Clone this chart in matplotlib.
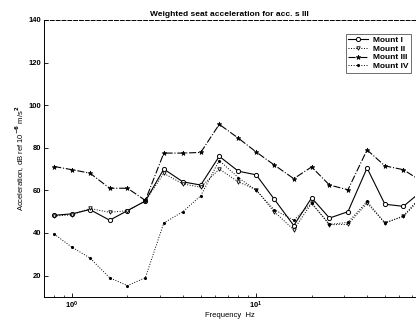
import numpy as np
import matplotlib
matplotlib.use("Agg")
import matplotlib.pyplot as plt

# 1/3 octave band centre frequencies, Hz
freq = [0.8, 1, 1.25, 1.6, 2, 2.5, 3.15, 4, 5, 6.3, 8, 10, 12.5, 16, 20, 25, 31.5, 40, 50, 63, 80]

# weighted seat acceleration, dB ref 1e-6 m/s^2
mount_1 = [48.3, 49.0, 51.0, 46.0, 50.5, 55.0, 70.0, 64.0, 62.5, 76.0, 69.0, 67.3,
           56.0, 43.5, 56.5, 47.0, 50.0, 70.5, 53.5, 52.5, 60.0]
mount_2 = [48.0, 48.5, 51.5, 49.7, 50.5, 55.0, 68.0, 63.0, 61.5, 70.0, 64.0, 60.3,
           50.0, 41.6, 54.0, 43.9, 44.0, 54.0, 44.7, 48.0, 58.0]
mount_3 = [71.2, 69.7, 68.1, 61.0, 61.0, 55.3, 77.5, 77.5, 77.8, 91.0, 84.5, 78.0,
           72.0, 65.5, 71.0, 62.5, 60.3, 79.0, 71.5, 69.7, 64.0]
mount_4 = [39.5, 33.3, 28.3, 19.0, 15.3, 19.0, 44.7, 50.0, 57.5, 74.0, 66.0, 60.0,
           51.0, 46.0, 54.0, 44.0, 45.0, 54.8, 44.7, 47.8, 57.0]

labels = ["Mount I", "Mount II", "Mount III", "Mount IV"]
yticks = [20, 40, 60, 80, 100, 120, 140]

plt.rcParams['font.family'] = ['Liberation Sans', 'DejaVu Sans']
plt.rcParams['font.weight'] = 'bold'
plt.rcParams['font.size'] = 5.5

fig = plt.figure(figsize=(4.16, 3.21), dpi=100)
ax = fig.add_axes([0.106, 0.075, 0.892, 0.863])

ax.plot(freq, mount_1, color='k', lw=0.8, ls='-', marker='o', ms=3,
        mfc='white', mew=0.7, label=labels[0])
ax.plot(freq, mount_2, color='k', lw=0.7, ls=':', marker='v', ms=2.5,
        mfc='white', mew=0.6, label=labels[1])
ax.plot(freq, mount_3, color='k', lw=0.8, ls='-.', marker='*', ms=3.5,
        mew=0.5, label=labels[2])
ax.plot(freq, mount_4, color='k', lw=0.7, ls=':', marker='.', ms=2.5,
        label=labels[3])

ax.set_xscale('log')
ax.set_xlim(0.705, 73)
ax.set_ylim(10, 140)
ax.set_yticks(yticks)
ax.tick_params(direction='in', length=3, width=0.6, labelsize=5.5, pad=2)
ax.tick_params(which='minor', direction='in', length=1.5, width=0.5)

ax.spines['right'].set_visible(False)
ax.spines['top'].set_linestyle((0, (4, 2)))
for s in ['top', 'left', 'bottom']:
    ax.spines[s].set_linewidth(0.7)

ax.set_title("Weighted seat acceleration for acc. s III", fontsize=6,
             fontweight='bold', pad=3)
ax.set_xlabel("Frequency  Hz", fontsize=5.5, labelpad=1)
ax.set_ylabel(r"Acceleration, dB ref 10$^{-6}$ m/s$^2$", fontsize=5.5, labelpad=1)

leg = ax.legend(loc='upper right', bbox_to_anchor=(1.0, 0.965), fontsize=6,
                frameon=True, fancybox=False, edgecolor='k', handlelength=2.4,
                borderpad=0.3, labelspacing=0.1, handletextpad=0.6)
leg.get_frame().set_linewidth(0.5)

fig.savefig("out.png", dpi=100)
